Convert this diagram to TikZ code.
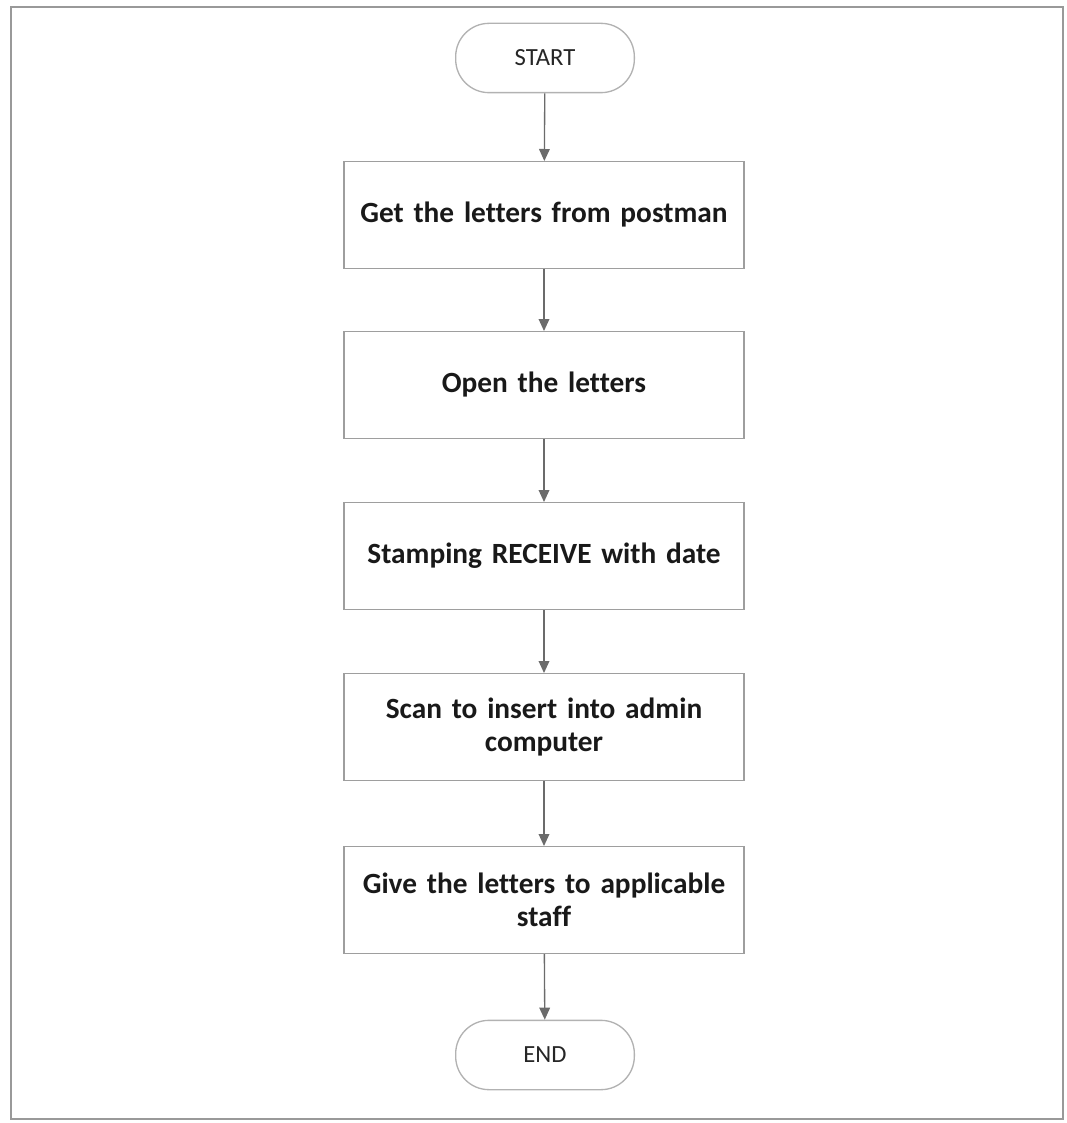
\documentclass[tikz,border=0pt]{standalone}
\usepackage{fontspec}
\setmainfont[Ligatures=NoCommon]{Carlito}
\usetikzlibrary{arrows.meta}
\begin{document}
\begin{tikzpicture}[x=0.75pt,y=-0.75pt,
  frame/.style={draw=black!40,line width=1.2pt},
  stepbox/.style={draw=black!38,line width=1pt,fill=white,minimum width=300pt,
    minimum height=80pt,align=center,text width=292pt,font=\bfseries\fontsize{22}{25}\selectfont,text=black!90},
  term/.style={draw=black!30,line width=1pt,fill=white,rounded corners=25pt,
    minimum width=134pt,minimum height=52pt,font=\fontsize{18.5}{22}\selectfont,text=black!85},
  flow/.style={draw=black!58,line width=1pt,-{Triangle[length=9pt,width=8pt]}}]
\useasboundingbox (0,0) rectangle (1066,1123);
\draw[frame] (11,7) rectangle (1063,1119);
\node[term] (start) at (545,58) {START};
\node[stepbox] (s1) at (544,215) {Get the letters from postman};
\node[stepbox] (s2) at (544,385) {Open the letters};
\node[stepbox] (s3) at (544,556) {Stamping RECEIVE with date};
\node[stepbox] (s4) at (544,727) {Scan to insert into admin\\computer};
\node[stepbox] (s5) at (544,900) {Give the letters to applicable\\staff};
\node[term] (end) at (545,1055) {END};
\draw[flow] (start) -- (s1);
\draw[flow] (s1) -- (s2);
\draw[flow] (s2) -- (s3);
\draw[flow] (s3) -- (s4);
\draw[flow] (s4) -- (s5);
\draw[flow] (s5) -- (end);
\end{tikzpicture}
\end{document}
